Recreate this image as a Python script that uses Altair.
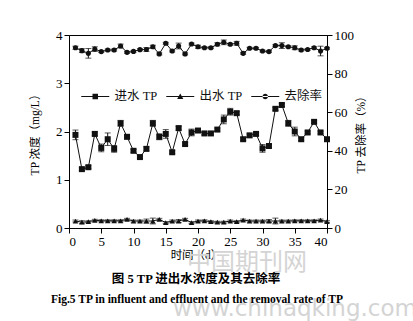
import altair as alt
import pandas as pd

days = list(range(1, 41))
influent = [1.93, 1.22, 1.26, 1.95, 1.66, 1.84, 1.64, 2.17, 1.89, 1.60,
            1.47, 1.64, 2.17, 1.89, 1.95, 1.57, 2.07, 1.74, 1.98, 2.02,
            1.96, 1.96, 2.04, 2.25, 2.41, 2.38, 1.84, 1.92, 1.95, 1.65,
            1.70, 2.47, 2.55, 2.17, 2.00, 1.84, 1.98, 2.20, 1.98, 1.84]
influent_err = [0.10, 0.03, 0.03, 0.04, 0.08, 0.13, 0.07, 0.06, 0.04, 0.03,
                0.03, 0.04, 0.06, 0.06, 0.09, 0.03, 0.04, 0.03, 0.07, 0.03,
                0.03, 0.03, 0.03, 0.09, 0.07, 0.03, 0.03, 0.03, 0.03, 0.08,
                0.03, 0.03, 0.03, 0.06, 0.09, 0.03, 0.03, 0.03, 0.03, 0.03]
effluent = [0.145, 0.12, 0.13, 0.16, 0.15, 0.15, 0.15, 0.15, 0.18, 0.145,
            0.145, 0.145, 0.145, 0.18, 0.11, 0.145, 0.145, 0.18, 0.11, 0.145,
            0.15, 0.13, 0.12, 0.12, 0.145, 0.13, 0.165, 0.145, 0.145, 0.145,
            0.145, 0.145, 0.145, 0.145, 0.15, 0.15, 0.15, 0.15, 0.165, 0.13]
effluent_err = [0.02, 0.03, 0.02, 0.02, 0.02, 0.02, 0.02, 0.02, 0.02, 0.02,
                0.02, 0.04, 0.06, 0.02, 0.02, 0.02, 0.03, 0.02, 0.02, 0.02,
                0.02, 0.02, 0.02, 0.02, 0.02, 0.02, 0.02, 0.02, 0.02, 0.02,
                0.03, 0.06, 0.02, 0.02, 0.02, 0.02, 0.02, 0.02, 0.02, 0.02]
removal = [93.4, 91.9, 90.5, 92.7, 91.4, 92.2, 92.2, 94.3, 91.0, 91.5,
           92.4, 92.5, 93.9, 90.2, 95.7, 91.7, 94.3, 90.2, 95.3, 93.9,
           93.4, 93.4, 95.2, 96.2, 95.2, 95.7, 90.5, 93.1, 93.1, 91.7,
           91.4, 94.5, 94.5, 93.9, 93.4, 92.2, 92.5, 93.4, 91.7, 93.1]
removal_err = [0.8, 1.0, 2.5, 1.2, 0.5, 0.5, 0.5, 1.0, 0.5, 0.5,
               0.5, 1.0, 0.8, 0.5, 0.5, 0.5, 1.5, 0.5, 0.5, 0.8,
               0.5, 0.5, 0.8, 1.2, 0.5, 1.0, 0.5, 0.5, 0.5, 0.5,
               0.5, 0.5, 1.5, 0.5, 1.0, 0.5, 0.5, 0.5, 2.5, 0.5]

series_names = ["进水 TP", "出水 TP", "去除率"]
x_ticks = [0, 5, 10, 15, 20, 25, 30, 35, 40]
left_ticks = [0, 1, 2, 3, 4]
right_ticks = [0, 20, 40, 60, 80, 100]
caption = ["图 5 TP 进出水浓度及其去除率"]
caption_en = ["Fig.5 TP in influent and effluent and the removal rate of TP"]
watermark_cn = ["中国期刊网"]
watermark_url = ["www.chinaqking.com"]

FONT = "Liberation Serif, Noto Sans CJK SC"
W, H = 258, 193

df = pd.DataFrame({"day": days, "inf": influent, "inf_e": influent_err,
                   "eff": effluent, "eff_e": effluent_err,
                   "rem": removal, "rem_e": removal_err})
for c in ["inf", "eff", "rem"]:
    df[c + "_lo"] = df[c] - df[c + "_e"]
    df[c + "_hi"] = df[c] + df[c + "_e"]

x_enc = alt.X("day:Q", scale=alt.Scale(domain=[0, 40], nice=False),
              axis=alt.Axis(values=x_ticks, title="时间（d）", titleX=127, titleY=27,
                            titleBaseline="middle", format="d"))

left_axis = alt.Axis(values=left_ticks, title="TP 浓度（mg/L）", titleAngle=270,
                     titleX=-34, titleY=H / 2, titleBaseline="middle", titleAlign="center",
                     format="d")
right_axis = alt.Axis(values=right_ticks, title="TP 去除率（%）", orient="right",
                      titleAngle=270, titleX=34, titleY=H / 2, titleBaseline="middle",
                      titleAlign="center", format="d")
left_scale = alt.Scale(domain=[0, 4], nice=False)
right_scale = alt.Scale(domain=[0, 100], nice=False)


def series(col, shape, size, scale, axis):
    base = alt.Chart(df)
    line = base.mark_line(color="#111", strokeWidth=1).encode(
        x=x_enc, y=alt.Y(f"{col}:Q", scale=scale, axis=axis))
    rule = base.mark_rule(color="#111", strokeWidth=1).encode(
        x=x_enc, y=alt.Y(f"{col}_lo:Q", scale=scale, axis=axis), y2=f"{col}_hi:Q")
    cap_lo = base.mark_tick(orient="horizontal", size=6, thickness=1, color="#111").encode(
        x=x_enc, y=alt.Y(f"{col}_lo:Q", scale=scale, axis=axis))
    cap_hi = base.mark_tick(orient="horizontal", size=6, thickness=1, color="#111").encode(
        x=x_enc, y=alt.Y(f"{col}_hi:Q", scale=scale, axis=axis))
    pts = base.mark_point(shape=shape, size=size, filled=True, color="#111", opacity=1).encode(
        x=x_enc, y=alt.Y(f"{col}:Q", scale=scale, axis=axis))
    return [line, rule, cap_lo, cap_hi, pts]


left = alt.layer(*series("inf", "square", 36, left_scale, left_axis),
                 *series("eff", "triangle-up", 30, left_scale, left_axis))
right = alt.layer(*series("rem", "circle", 26, right_scale, right_axis))

paths = [
    "M-2.8,-0.1H2.8V0.1H-2.8Z M-0.55,-0.55H0.55V0.55H-0.55Z",
    "M-2.8,-0.1H2.8V0.1H-2.8Z M0,-0.6L0.62,0.5H-0.62Z",
    "M-2.8,-0.1H2.8V0.1H-2.8Z M-0.55,0A0.55,0.55 0 1,0 0.55,0A0.55,0.55 0 1,0 -0.55,0Z",
]
legend_df = pd.DataFrame({"series": series_names})
legend_layer = alt.Chart(legend_df).mark_point(filled=True, color="#111", opacity=0).encode(
    x=alt.value(0), y=alt.value(0),
    shape=alt.Shape("series:N", scale=alt.Scale(domain=series_names, range=paths),
                    legend=alt.Legend(title=None, orient="none", direction="horizontal",
                                      legendX=20, legendY=55, symbolSize=100,
                                      symbolOpacity=1, symbolFillColor="#111",
                                      symbolStrokeWidth=0, labelOffset=13,
                                      columnPadding=8, labelFont=FONT,
                                      labelFontSize=12.5, labelColor="#111",
                                      padding=0)))

wm1 = alt.Chart(pd.DataFrame({"t": watermark_cn})).mark_text(
    font="Noto Sans CJK SC", fontSize=24, color="#d4d4d4", align="center", baseline="middle"
).encode(text="t:N", x=alt.value(178), y=alt.value(228))
wm2 = alt.Chart(pd.DataFrame({"t": watermark_url})).mark_text(
    font="DejaVu Sans", fontSize=23, color="#d4d4d4", align="center", baseline="middle"
).encode(text="t:N", x=alt.value(226), y=alt.value(274))

cap1 = alt.Chart(pd.DataFrame({"t": caption})).mark_text(
    font=FONT, fontSize=12.5, fontWeight="bold", color="#000", align="center", baseline="middle"
).encode(text="t:N", x=alt.value(127), y=alt.value(244))
cap2 = alt.Chart(pd.DataFrame({"t": caption_en})).mark_text(
    font="Liberation Serif", fontSize=11.5, fontWeight="bold", color="#000",
    align="center", baseline="middle"
).encode(text="t:N", x=alt.value(128), y=alt.value(265))

chart = alt.layer(wm1, wm2, left, right, legend_layer, cap1, cap2).resolve_scale(
    y="independent", shape="independent"
).properties(
    width=W, height=H,
    padding={"left": 69, "top": 35, "right": 413 - 69 - W, "bottom": 321 - 35 - H},
    autosize=alt.AutoSizeParams(type="none"),
).configure_view(stroke="#000", strokeWidth=1).configure_axis(
    labelFont=FONT, titleFont=FONT, labelFontSize=13, titleFontSize=11.5,
    titleFontWeight="normal", labelColor="#000", titleColor="#000",
    domainColor="#000", tickColor="#000", tickSize=5, labelPadding=2, grid=False,
)

chart.save("out.html", embed_options={"renderer": "svg", "actions": False})
